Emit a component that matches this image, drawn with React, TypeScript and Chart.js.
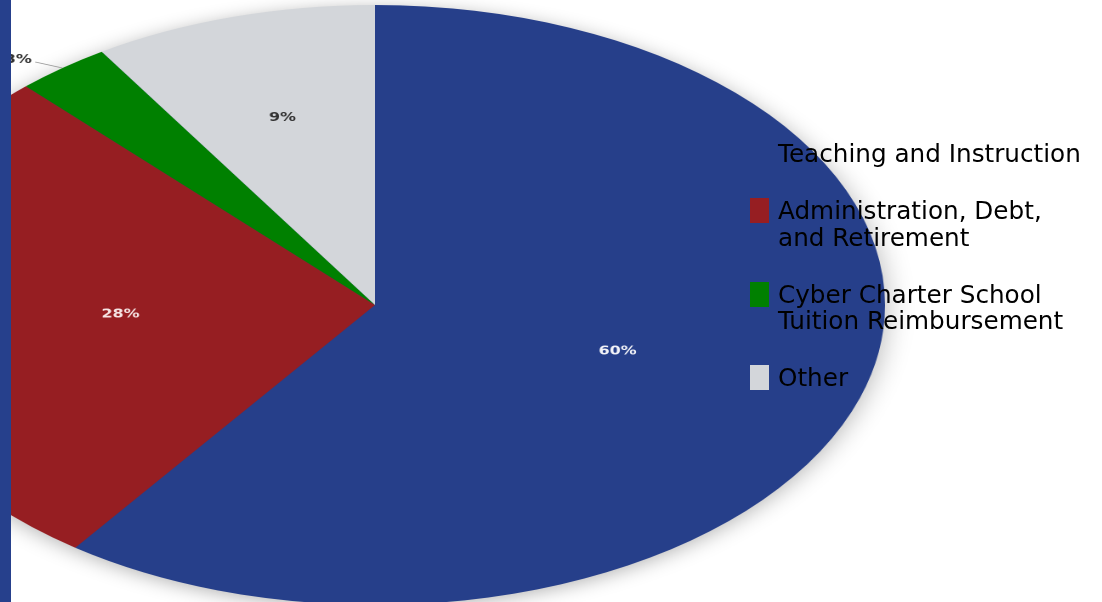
import React, { useEffect, useRef } from "react";
import { Chart, registerables } from "chart.js";

Chart.register(...registerables);

// ---- data ----
const categories: string[][] = [
  ["Teaching and Instruction"],
  ["Administration, Debt,", "and Retirement"],
  ["Cyber Charter School", "Tuition Reimbursement"],
  ["Other"],
];
const shares: number[] = [60, 28, 3, 9];
const sliceColors: string[] = ["#263F8A", "#961E22", "#008000", "#D3D6DA"];
const valueLabelColors: string[] = ["#F2F3F8", "#F6E4E4", "#333333", "#333333"];

const STRETCH_X = 1.7;

const shadowPlugin = {
  id: "pieShadow",
  beforeDatasetsDraw(chart: any) {
    const meta = chart.getDatasetMeta(0);
    const arc = meta.data[0];
    if (!arc) return;
    const { x, y, outerRadius } = arc.getProps(["x", "y", "outerRadius"], true);
    const ctx = chart.ctx;
    ctx.save();
    ctx.shadowColor = "rgba(0,0,0,0.32)";
    ctx.shadowBlur = 36;
    ctx.shadowOffsetX = 0;
    ctx.shadowOffsetY = 6;
    ctx.beginPath();
    ctx.arc(x, y, outerRadius - 1, 0, Math.PI * 2);
    ctx.fillStyle = sliceColors[0];
    ctx.fill();
    ctx.restore();
  },
};

const valueLabelPlugin = {
  id: "valueLabels",
  afterDatasetsDraw(chart: any) {
    const ctx = chart.ctx;
    const meta = chart.getDatasetMeta(0);
    const data = chart.data.datasets[0].data as number[];
    meta.data.forEach((arc: any, i: number) => {
      const { x, y, startAngle, endAngle, outerRadius } = arc.getProps(
        ["x", "y", "startAngle", "endAngle", "outerRadius"],
        true
      );
      const mid = (startAngle + endAngle) / 2;
      const v = data[i];
      const text = `${v}%`;
      ctx.save();
      ctx.font = "bold 12px 'DejaVu Sans', Verdana, sans-serif";
      ctx.fillStyle = valueLabelColors[i];
      ctx.textBaseline = "middle";
      if (v < 5) {
        // outside label with leader line
        const ex = x + Math.cos(mid) * outerRadius;
        const ey = y + Math.sin(mid) * outerRadius;
        const lx = ex - 16;
        const ly = ey - 6;
        ctx.strokeStyle = "#9a9a9a";
        ctx.lineWidth = 0.8;
        ctx.beginPath();
        ctx.moveTo(ex, ey);
        ctx.lineTo(lx, ly);
        ctx.stroke();
        ctx.translate(lx - 2, ly - 2);
        ctx.scale(0.78, 1);
        ctx.textAlign = "right";
        ctx.fillText(text, 0, 0);
      } else {
        const f = v >= 20 ? 0.5 : 0.65;
        const px = x + Math.cos(mid) * outerRadius * f;
        const py = y + Math.sin(mid) * outerRadius * f;
        ctx.translate(px, py);
        ctx.scale(0.78, 1);
        ctx.textAlign = "center";
        ctx.fillText(text, 0, 0);
      }
      ctx.restore();
    });
  },
};

export default function App() {
  const canvasRef = useRef<HTMLCanvasElement | null>(null);

  useEffect(() => {
    if (!canvasRef.current) return;
    const chart = new Chart(canvasRef.current, {
      type: "pie",
      data: {
        labels: categories,
        datasets: [
          {
            data: shares,
            backgroundColor: sliceColors,
            borderWidth: 0,
          },
        ],
      },
      options: {
        animation: false,
        responsive: true,
        maintainAspectRatio: false,
        devicePixelRatio: 2,
        events: [],
        layout: { padding: 40 },
        plugins: {
          legend: { display: false },
          tooltip: { enabled: false },
        },
      },
      plugins: [shadowPlugin, valueLabelPlugin],
    });
    return () => chart.destroy();
  }, []);

  return (
    <div
      style={{
        position: "fixed",
        left: 0,
        top: 0,
        width: 1102,
        height: 602,
        overflow: "hidden",
        background: "#ffffff",
      }}
    >
      <div
        style={{
          position: "absolute",
          left: 35,
          top: -35,
          width: 680,
          height: 680,
          transform: `scaleX(${STRETCH_X})`,
          transformOrigin: "50% 50%",
        }}
      >
        <canvas ref={canvasRef} />
      </div>

      <div
        style={{
          position: "absolute",
          left: 0,
          top: 0,
          width: 11,
          height: 602,
          background: "#26408C",
        }}
      />

      <div
        style={{
          position: "absolute",
          left: 750,
          top: 141.4,
          display: "flex",
          flexDirection: "column",
          gap: 30,
          fontFamily: "'DejaVu Sans', Verdana, sans-serif",
          fontSize: 24.7,
          lineHeight: "26.7px",
          color: "#000000",
        }}
      >
        {categories.map((lines, i) => (
          <div key={i} style={{ display: "flex", alignItems: "flex-start" }}>
            <div
              style={{
                width: 19,
                height: 25,
                background: sliceColors[i],
                flex: "0 0 auto",
              }}
            />
            <div style={{ marginLeft: 9, whiteSpace: "nowrap" }}>
              {lines.map((l, j) => (
                <div key={j}>{l}</div>
              ))}
            </div>
          </div>
        ))}
      </div>
    </div>
  );
}
